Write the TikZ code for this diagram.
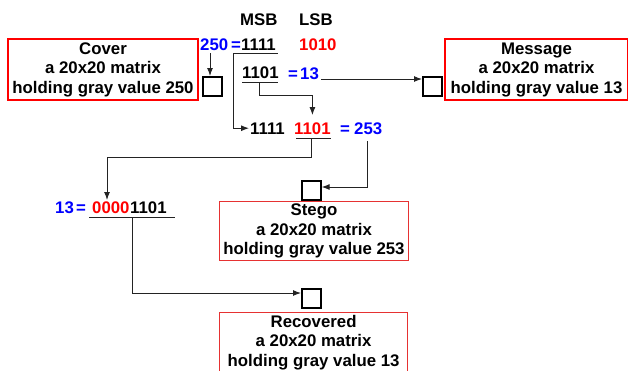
\documentclass[tikz,border=0pt]{standalone}
\usepackage{fontspec}
\setmainfont{Liberation Sans}
\usetikzlibrary{arrows.meta}
\definecolor{bl}{RGB}{0,0,255}
\definecolor{rd}{RGB}{255,0,0}
\definecolor{rdl}{RGB}{230,50,50}
\definecolor{ln}{RGB}{35,35,35}
\begin{document}
\begin{tikzpicture}[x=1pt,y=-1pt,
  font=\fontsize{16.8}{19.5}\selectfont\bfseries,
  txt/.style={inner sep=0pt, anchor=base west},
  infobox/.style={draw=rd, align=center, inner sep=0pt, anchor=north west},
  sq/.style={draw=black, line width=1.6pt, minimum size=19pt, inner sep=0pt, anchor=north west},
  conn/.style={draw=ln, line width=1pt},
  arr/.style={conn, -{Latex[length=8pt,width=6pt]}}]
\useasboundingbox (0,0) rectangle (628,370);
\clip (0,0) rectangle (628,370);

% boxes
\node[infobox, line width=2pt, minimum width=190pt, minimum height=61pt] (cover) at (7,38) {Cover\\a 20x20 matrix\\holding gray value 250};
\node[infobox, line width=2pt, minimum width=183pt, minimum height=61pt] (message) at (444,38) {Message\\a 20x20 matrix\\holding gray value 13};
\node[infobox, draw=rdl, line width=1pt, minimum width=189pt, minimum height=59pt] (stego) at (219,201) {Stego\\a 20x20 matrix\\holding gray value 253};
\node[infobox, draw=rdl, line width=1.2pt, minimum width=188pt, minimum height=60pt] (recov) at (219,312) {Recovered\\a 20x20 matrix\\holding gray value 13};

% small squares
\node[sq] (sqc) at (202,76) {};
\node[sq] (sqm) at (422,76) {};
\node[sq] (sqs) at (301,180) {};
\node[sq] (sqr) at (301,288) {};

% texts
\node[txt] (msb) at (240,25) {MSB};
\node[txt] (lsb) at (299,25) {LSB};
\node[txt,text=bl] (n250) at (200,50) {250};
\node[txt,text=bl] (eqa) at (231,50) {=};
\node[txt] (a1111) at (241,50) {1111};
\node[txt,text=rd] (a1010) at (299,50) {1010};
\node[txt] (b1101) at (242,78) {1101};
\node[txt,text=bl] (eqb) at (288,79) {=};
\node[txt,text=bl] (b13) at (300,79) {13};
\node[txt] (c1111) at (250,134) {1111};
\node[txt,text=rd] (c1101) at (294,134) {1101};
\node[txt,text=bl] (eqc) at (340,134) {=};
\node[txt,text=bl] (c253) at (354,134) {253};
\node[txt,text=bl] (d13) at (55,213) {13};
\node[txt,text=bl] (eqd) at (76,213) {=};
\node[txt,text=rd] (d0000) at (92,213) {0000};
\node[txt] (d1101) at (130,213) {1101};

% underlines
\coordinate (u1l) at (233,53); \coordinate (u1r) at (278,53);
\coordinate (u2l) at (242,82); \coordinate (u2r) at (278,82); \coordinate (u2m) at (259,82); \coordinate (k2) at (259,95);
\coordinate (u3l) at (296,138); \coordinate (u3r) at (331,138); \coordinate (u3m) at (311,138); \coordinate (k3) at (311,157); \coordinate (k3b) at (107,157); \coordinate (t3) at (107,200);
\coordinate (u4l) at (89,217); \coordinate (u4r) at (175,217); \coordinate (u4m) at (132,217); \coordinate (k4) at (132,293);
\draw[conn] (u1l) -- (u1r);
\draw[conn] (u2l) -- (u2r);
\draw[conn] (u3l) -- (u3r);
\draw[conn] (u4l) -- (u4r);

% connectors
\coordinate (p250) at (210,53);
\draw[arr] (p250) -- (p250 |- sqc.north);
\draw[arr, shorten >=1pt] (u1l) |- (c1111.west);
\draw[arr, shorten >=7pt] (u2m) -- (k2) -| (c1101.north);
\coordinate (m1) at (321,79);
\draw[arr] (m1) -- (m1 -| sqm.west);
\coordinate (s1) at (367,141); \coordinate (s2) at (367,187);
\draw[arr] (s1) -- (s2) -- (s2 -| sqs.east);
\draw[arr] (u3m) -- (k3) -- (k3b) -- (t3);
\draw[arr] (u4m) -- (k4) -- (k4 -| sqr.west);
\end{tikzpicture}
\end{document}
